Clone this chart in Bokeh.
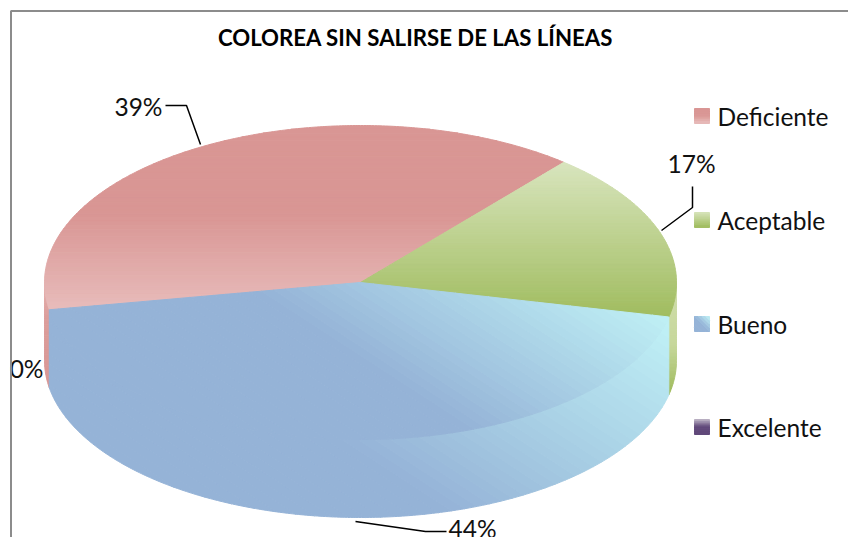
import math
from bokeh.plotting import figure
from bokeh.embed import file_html
from bokeh.resources import INLINE
from bokeh.core.properties import value

TITLE = "COLOREA SIN SALIRSE DE LAS LÍNEAS"
categories = ["Deficiente", "Aceptable", "Bueno", "Excelente"]
percents = [38.9, 17.4, 43.7, 0]
FONT = "Lato"

CX, CY, RX, RY, DEPTH = 360.0, 282.0, 316.0, 157.0, 78.0
START = 260.0

# gradient: (normal x, normal y, start, end, stops)
G_RED_TOP = (0, 1, 125, 312, [(0, "#D99694"), (0.48, "#D99694"), (1, "#E8BDBC")])
G_RED_SIDE = (0, 1, 285, 390, [(0, "#E6B0AE"), (0.3, "#DC9E9C"), (1, "#D99694")])
G_GREEN_TOP = (0, 1, 160, 318, [(0, "#D9E5BF"), (1, "#A0BC5E")])
G_GREEN_SIDE = (0, 1, 288, 392, [(0, "#CFDDAA"), (0.55, "#C6D79B"), (1, "#A0BC5E")])
G_BLUE_TOP = (0.545, -0.838, -104, 99, [(0, "#95B3D7"), (1, "#BFF0F5")])
G_BLUE_SIDE = (0.545, -0.838, -183, 90, [(0, "#95B3D7"), (1, "#BFF0F5")])
TOPS = [G_RED_TOP, G_GREEN_TOP, G_BLUE_TOP]
SIDES = [G_RED_SIDE, G_GREEN_SIDE, G_BLUE_SIDE]

p = figure(width=848, height=537, x_range=(0, 848), y_range=(537, 0),
           toolbar_location=None, output_backend="svg", min_border=0,
           outline_line_color=None, background_fill_color="white")
p.axis.visible = False
p.grid.visible = False


def hex2rgb(h):
    return tuple(int(h[i:i + 2], 16) for i in (1, 3, 5))


def colour_at(stops, f):
    f = max(0.0, min(1.0, f))
    for (f0, c0), (f1, c1) in zip(stops, stops[1:]):
        if f <= f1:
            k = 0 if f1 == f0 else (f - f0) / (f1 - f0)
            a, b = hex2rgb(c0), hex2rgb(c1)
            return "#%02x%02x%02x" % tuple(round(a[i] + (b[i] - a[i]) * k) for i in range(3))
    return stops[-1][1]


def clip(poly, nx, ny, limit, keep_above):
    out = []
    sign = 1 if keep_above else -1
    def d(q):
        return sign * (q[0] * nx + q[1] * ny - limit)
    for i, a in enumerate(poly):
        b = poly[(i + 1) % len(poly)]
        da, db = d(a), d(b)
        if da >= 0:
            out.append(a)
        if (da >= 0) != (db >= 0):
            k = da / (da - db)
            out.append((a[0] + (b[0] - a[0]) * k, a[1] + (b[1] - a[1]) * k))
    return out


def draw_gradient(poly, grad, n=48):
    nx, ny, t0, t1, stops = grad
    ts = [q[0] * nx + q[1] * ny for q in poly]
    lo, hi = min(ts), max(ts)
    xs, ys, cols = [], [], []
    for i in range(n):
        a = lo + (hi - lo) * i / n
        b = lo + (hi - lo) * (i + 1) / n
        piece = clip(poly, nx, ny, a, True)
        if piece:
            piece = clip(piece, nx, ny, b, False)
        if len(piece) >= 3:
            xs.append([q[0] for q in piece])
            ys.append([q[1] for q in piece])
            cols.append(colour_at(stops, ((a + b) / 2 - t0) / (t1 - t0)))
    p.patches(xs, ys, fill_color=cols, line_color=cols, line_width=1.0)


def pt(a, dy=0.0):
    r = math.radians(a)
    return (CX + RX * math.sin(r), CY - RY * math.cos(r) + dy)


def arc(a0, a1, dy=0.0):
    n = max(2, int(abs(a1 - a0) * 2))
    return [pt(a0 + (a1 - a0) * i / n, dy) for i in range(n + 1)]


# Sector angles from the values
angles = []
a = START
for v in percents:
    angles.append((a, a + v * 3.6))
    a += v * 3.6

# Side walls first
for (a0, a1), grad in zip(angles, SIDES):
    for shift in (0, 360):
        s0, s1 = max(a0, 90 + shift), min(a1, 270 + shift)
        if s1 > s0:
            draw_gradient(arc(s0, s1) + arc(s1, s0, DEPTH), grad)

# Top faces
for (a0, a1), grad in zip(angles, TOPS):
    draw_gradient([(CX, CY)] + arc(a0, a1), grad)

# Legend
SW_X, SW = 694, 15
legend_y = [108, 212, 316, 419]
legend_grads = [
    (0, 1, 0, 1, [(0, "#D99694"), (0.5, "#D99694"), (1, "#E8BDBC")]),
    (0, 1, 0, 1, [(0, "#D7E4BC"), (1, "#A0BC5E")]),
    (0.707, -0.707, -0.707, 0.707, [(0, "#95B3D7"), (0.5, "#95B3D7"), (1, "#BFF0F5")]),
    (0, 1, 0, 1, [(0, "#C4BCCB"), (0.5, "#60497A"), (1, "#60497A")]),
]
for name, y0, g in zip(categories, legend_y, legend_grads):
    nx, ny, t0, t1, stops = g
    base = nx * SW_X + ny * y0
    scale = SW
    draw_gradient([(SW_X, y0), (SW_X + SW, y0), (SW_X + SW, y0 + SW), (SW_X, y0 + SW)],
                  (nx, ny, base + t0 * scale if nx else y0, base + t1 * scale if nx else y0 + SW, stops), n=8)
    p.text([717], [y0 + 7.5], text=[name], text_font=value(FONT), text_font_size="24.5px",
           text_color="#111111", text_baseline="middle", text_align="left")

# Title
p.text([415], [37], text=[TITLE], text_font=value(FONT), text_font_size="22.2px",
       text_font_style="bold", text_color="#000000", text_align="center", text_baseline="middle")

# Data labels and leader lines
labels = [f"{round(v)}%" for v in percents]
label_pos = [(162, 106, "right"), (691, 163, "center"), (472, 528, "center"), (43, 368, "right")]
leaders = [
    ([165, 186, 200], [105, 105, 144]),
    ([692, 692, 661], [186, 207, 230]),
    ([355, 425, 446], [521, 531, 531]),
]
for lab, (x, y, al) in zip(labels, label_pos):
    p.text([x], [y], text=[lab], text_font=value(FONT), text_font_size="24.5px",
           text_color="#111111", text_align=al, text_baseline="middle")
for xs, ys in leaders:
    p.line(xs, ys, line_color="#000000", line_width=1.5)

# Chart frame
p.line([10.5, 10.5, 848], [537, 10.5, 10.5], line_color="#8c8c8c", line_width=2)

open("out.html", "w").write(file_html(p, INLINE))
